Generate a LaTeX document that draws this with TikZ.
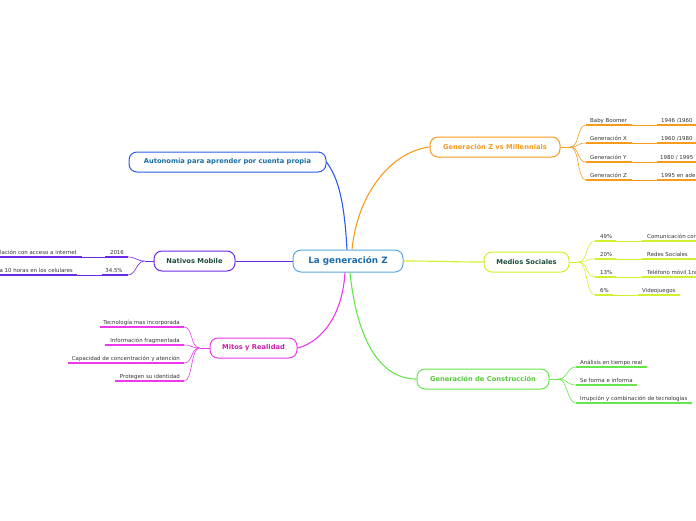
\documentclass[tikz,border=0pt]{standalone}
\usepackage{fontspec}
\setmainfont{DejaVu Sans}
\usetikzlibrary{calc}

\definecolor{hubblue}{HTML}{5BA8DC}
\definecolor{hubtext}{HTML}{1B6CA8}
\definecolor{autoblue}{HTML}{2A5BEA}
\definecolor{autotext}{HTML}{1C6FA0}
\definecolor{genorange}{HTML}{F89A1C}
\definecolor{medyellow}{HTML}{D2F02E}
\definecolor{darkgreen}{HTML}{1E4D3C}
\definecolor{congreen}{HTML}{66E64A}
\definecolor{context}{HTML}{58C83A}
\definecolor{natpurple}{HTML}{6A2AE8}
\definecolor{mitmag}{HTML}{EE38EE}
\definecolor{mittext}{HTML}{CC1FA8}
\definecolor{leaftext}{HTML}{333333}

\tikzset{
  hub/.style={draw=hubblue, line width=1pt, rounded corners=8pt, fill=white,
    text=hubtext, font=\fontsize{8.8}{10}\selectfont\bfseries,
    minimum height=22, minimum width=110, inner sep=0pt},
  branch/.style={line width=1pt, rounded corners=8pt, fill=white,
    font=\fontsize{6.7}{8}\selectfont\bfseries, minimum height=20, inner sep=0pt},
  link/.style={line width=1.1pt},
  fan/.style={line width=0.6pt},
  uline/.style={line width=1.2pt},
  thinline/.style={line width=0.4pt},
  leaf/.style={text=leaftext, font=\fontsize{5.45}{6.5}\selectfont, inner sep=0pt},
}

\begin{document}
\begin{tikzpicture}[x=1pt, y=-1pt]
\useasboundingbox (0,0) rectangle (696,520);

% ================= centro y ramas =================
\node[hub] (hub) at (348,261) {La generación Z};

\node[branch, draw=autoblue, text=autotext, minimum width=197] (auto) at (227.5,162) {Autonomía para aprender por cuenta propia};
\node[branch, draw=genorange, text=genorange, minimum width=130] (gen) at (495,147) {Generación Z vs Millennials};
\node[branch, draw=medyellow, text=darkgreen, minimum width=85] (med) at (526.5,262) {Medios Sociales};
\node[branch, draw=congreen, text=context, minimum width=132] (con) at (483,379) {Generación de Construcción};
\node[branch, draw=natpurple, text=darkgreen, minimum width=81] (nat) at (194.5,261) {Nativos Mobile};
\node[branch, draw=mitmag, text=mittext, minimum width=87] (mit) at (253.5,348) {Mitos y Realidad};

% conectores principales
\draw[link, autoblue] ([xshift=-1]hub.north) .. controls +(-3,-55) and +(10,14) .. (auto.east);
\draw[link, genorange] ([xshift=4]hub.north) .. controls +(6,-60) and +(-35,4) .. (gen.west);
\draw[link, medyellow] (hub.east) .. controls +(35,0) and +(-35,0) .. (med.west);
\draw[link, congreen] ([xshift=2]hub.south) .. controls +(6,60) and +(-40,0) .. (con.west);
\draw[line width=0.9pt, natpurple] (hub.west) -- (nat.east);
\draw[link, mitmag] ([xshift=-3]hub.south) .. controls +(-3,50) and +(18,-4) .. (mit.east);

% ================= Generación Z vs Millennials =================
\draw[fan, genorange] (gen.east) -- ++(10,0) coordinate (genfan);
\coordinate (g1) at (586,125);
\coordinate (g2) at (586,143);
\coordinate (g3) at (586,162);
\coordinate (g4) at (586,180);
\draw[fan, genorange] (genfan) .. controls +(9,0) and +(-9,0) .. (g1);
\draw[fan, genorange] (genfan) .. controls +(9,0) and +(-9,0) .. (g2);
\draw[fan, genorange] (genfan) .. controls +(9,0) and +(-9,0) .. (g3);
\draw[fan, genorange] (genfan) .. controls +(9,0) and +(-9,0) .. (g4);
\draw[uline, genorange] (g1) -- (632,125);  \draw[thinline, genorange] (632,125) -- (657,125);  \draw[uline, genorange] (657,125) -- (696,125);
\draw[uline, genorange] (g2) -- (632,143);  \draw[thinline, genorange] (632,143) -- (657,143);  \draw[uline, genorange] (657,143) -- (696,143);
\draw[uline, genorange] (g3) -- (632,162);  \draw[thinline, genorange] (632,162) -- (657,162);  \draw[uline, genorange] (657,162) -- (696,162);
\draw[uline, genorange] (g4) -- (632,180);  \draw[thinline, genorange] (632,180) -- (657,180);  \draw[uline, genorange] (657,180) -- (696,180);
\node[leaf, anchor=base west] (g1a) at (590,122) {Baby Boomer};
\node[leaf, anchor=base west] (g2a) at (590,140) {Generación X};
\node[leaf, anchor=base west] (g3a) at (590,159) {Generación Y};
\node[leaf, anchor=base west] (g4a) at (590,177) {Generación Z};
\node[leaf, anchor=base west] (g1b) at (661,122) {1946 /1960};
\node[leaf, anchor=base west] (g2b) at (661,140) {1960 /1980};
\node[leaf, anchor=base west] (g3b) at (660,159) {1980 / 1995};
\node[leaf, anchor=base west] (g4b) at (661,177) {1995 en ade};

% ================= Medios Sociales =================
\draw[fan, medyellow] (med.east) -- ++(9,0) coordinate (medfan);
\coordinate (m1) at (595,241);
\coordinate (m2) at (595,259);
\coordinate (m3) at (595,277);
\coordinate (m4) at (595,295);
\draw[fan, medyellow] (medfan) .. controls +(9,0) and +(-9,0) .. (m1);
\draw[fan, medyellow] (medfan) .. controls +(9,0) and +(-9,0) .. (m2);
\draw[fan, medyellow] (medfan) .. controls +(9,0) and +(-9,0) .. (m3);
\draw[fan, medyellow] (medfan) .. controls +(9,0) and +(-9,0) .. (m4);
\draw[uline, medyellow] (m1) -- (616,241);  \draw[thinline, medyellow] (616,241) -- (642,241);  \draw[uline, medyellow] (642,241) -- (696,241);
\draw[uline, medyellow] (m2) -- (616,259);  \draw[thinline, medyellow] (616,259) -- (642,259);  \draw[uline, medyellow] (642,259) -- (696,259);
\draw[uline, medyellow] (m3) -- (616,277);  \draw[thinline, medyellow] (616,277) -- (642,277);  \draw[uline, medyellow] (642,277) -- (696,277);
\draw[uline, medyellow] (m4) -- (613,295);  \draw[thinline, medyellow] (613,295) -- (638,295);  \draw[uline, medyellow] (638,295) -- (680,295);
\node[leaf, anchor=base west] (m1a) at (600,238) {49\%};
\node[leaf, anchor=base west] (m2a) at (600,256) {20\%};
\node[leaf, anchor=base west] (m3a) at (600,274) {13\%};
\node[leaf, anchor=base west] (m4a) at (600,292) {6\%};
\node[leaf, anchor=base west] (m1b) at (647,238) {Comunicación con};
\node[leaf, anchor=base west] (m2b) at (647,256) {Redes Sociales};
\node[leaf, anchor=base west] (m3b) at (647,274) {Teléfono móvil 1ra};
\node[leaf, anchor=base west] (m4b) at (642,292) {Videojuegos};

% ================= Generación de Construcción =================
\draw[fan, congreen] (con.east) -- ++(9,0) coordinate (confan);
\coordinate (c1) at (576,367);
\coordinate (c2) at (576,385);
\coordinate (c3) at (576,403);
\draw[fan, congreen] (confan) .. controls +(9,0) and +(-9,0) .. (c1);
\draw[fan, congreen] (confan) .. controls +(9,0) and +(-9,0) .. (c2);
\draw[fan, congreen] (confan) .. controls +(9,0) and +(-9,0) .. (c3);
\draw[uline, congreen] (c1) -- (647,367);
\draw[uline, congreen] (c2) -- (637,385);
\draw[uline, congreen] (c3) -- (692,403);
\node[leaf, anchor=base west] (c1a) at (580,364) {Análisis en tiempo real};
\node[leaf, anchor=base west] (c2a) at (580,382) {Se forma e informa};
\node[leaf, anchor=base west] (c3a) at (580,400) {Irrupción y combinación de tecnologías};

% ================= Nativos Mobile =================
\draw[fan, natpurple] (nat.west) -- ++(-9,0) coordinate (natfan);
\coordinate (n1) at (128,257);
\coordinate (n2) at (128,275);
\draw[fan, natpurple] (natfan) .. controls +(-8,0) and +(8,0) .. (n1);
\draw[fan, natpurple] (natfan) .. controls +(-8,0) and +(8,0) .. (n2);
\draw[uline, natpurple] (n1) -- (105,257);  \draw[thinline, natpurple] (105,257) -- (82,257);  \draw[uline, natpurple] (82,257) -- (0,257);
\draw[uline, natpurple] (n2) -- (102,275);  \draw[thinline, natpurple] (102,275) -- (77,275);  \draw[uline, natpurple] (77,275) -- (0,275);
\node[leaf, anchor=base east] (n1a) at (77,254) {lación con acceso a internet};
\node[leaf, anchor=base east] (n2a) at (73,272) {a 10 horas en los celulares};
\node[leaf, anchor=base] (n1b) at (117,254) {2016};
\node[leaf, anchor=base] (n2b) at (114,272) {34.5\%};

% ================= Mitos y Realidad =================
\draw[fan, mitmag] (mit.west) -- ++(-10,0) coordinate (mitfan);
\coordinate (r1) at (184,327);
\coordinate (r2) at (184,345);
\coordinate (r3) at (184,363);
\coordinate (r4) at (184,381);
\draw[fan, mitmag] (mitfan) .. controls +(-9,0) and +(9,0) .. (r1);
\draw[fan, mitmag] (mitfan) .. controls +(-9,0) and +(9,0) .. (r2);
\draw[fan, mitmag] (mitfan) .. controls +(-9,0) and +(9,0) .. (r3);
\draw[fan, mitmag] (mitfan) .. controls +(-9,0) and +(9,0) .. (r4);
\draw[uline, mitmag] (r1) -- (100,327);
\draw[uline, mitmag] (r2) -- (105,345);
\draw[uline, mitmag] (r3) -- (68,363);
\draw[uline, mitmag] (r4) -- (115,381);
\node[leaf, anchor=base east] (r1a) at (180,324) {Tecnología mas incorporada};
\node[leaf, anchor=base east] (r2a) at (180,342) {Información fragmentada};
\node[leaf, anchor=base east] (r3a) at (180,360) {Capacidad de concentración y atención};
\node[leaf, anchor=base east] (r4a) at (180,378) {Protegen su identidad};

\end{tikzpicture}
\end{document}
